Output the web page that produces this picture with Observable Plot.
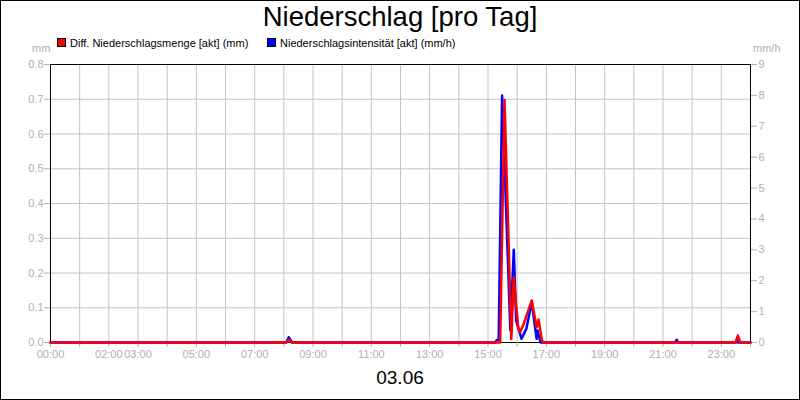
<!DOCTYPE html>
<html><head><meta charset="utf-8">
<script src="https://cdn.jsdelivr.net/npm/d3@7"></script>
<script src="https://cdn.jsdelivr.net/npm/@observablehq/plot@0.6"></script>
<style>
body{margin:0;background:#fff;font-family:"Liberation Sans",Arial,sans-serif;}
#wrap{position:relative;width:800px;height:400px;overflow:hidden;background:#fff;}
#border{position:absolute;left:0;top:0;width:800px;height:400px;box-sizing:border-box;border:1px solid #000;pointer-events:none;}
.abs{position:absolute;white-space:nowrap;}
#title{left:0;width:800px;top:1px;text-align:center;font-size:27.5px;color:#000;}
#date{left:0;width:800px;top:367px;text-align:center;font-size:19px;color:#000;}
.leg{font-size:11px;color:#000;top:37px;}
.sw{display:inline-block;width:7px;height:7px;border:1px solid #000;vertical-align:0px;margin-right:4px;}
.unit{font-size:11px;color:#b0b0b0;top:42px;}
</style></head>
<body>
<div id="wrap">
  <div id="chart"></div>
  <div class="abs" id="title">Niederschlag [pro Tag]</div>
  <div class="abs leg" style="left:57px"><span class="sw" style="background:#f00"></span>Diff. Niederschlagsmenge [akt] (mm)</div>
  <div class="abs leg" style="left:267px"><span class="sw" style="background:#00f"></span>Niederschlagsintensität [akt] (mm/h)</div>
  <div class="abs unit" style="left:32px">mm</div>
  <div class="abs unit" style="left:753px">mm/h</div>
  <div class="abs" id="date">03.06</div>
  <div id="border"></div>
</div>
<script>
// Diff. Niederschlagsmenge [akt] (mm)
const redTimes = ["00:00","08:05","08:11","08:16","15:25","15:34","15:48","15:53","16:02","16:06","16:12","16:30","16:40","16:44","16:51","16:56","23:29","23:34","23:39","24:00"];
const redValues = [0,0,0.008,0,0,0.698,0.01,0.188,0.045,0.03,0.048,0.121,0.044,0.066,0.005,0,0,0.02,0,0];
// Niederschlagsintensität [akt] (mm/h)
const blueTimes = ["00:00","08:05","08:10","08:17","15:15","15:18","15:22","15:29","15:46","15:53","15:58","16:09","16:19","16:30","16:40","16:42","16:48","21:25","21:28","21:31","23:30","23:32","23:34","24:00"];
const blueValues = [0,0,0.17,0,0,0.08,0.08,8.0,0.4,3.0,0.7,0.12,0.45,1.3,0.12,0.39,0,0,0.09,0,0,0.08,0,0];
// axes
const leftTicks = [0,0.1,0.2,0.3,0.4,0.5,0.6,0.7,0.8];
const rightTicks = [0,1,2,3,4,5,6,7,8,9];
const xLabelHours = [0,2,3,5,7,9,11,13,15,17,19,21,23];
const leftMax = 0.8, rightMax = 9;

const toH = s => { const [h,m] = s.split(":").map(Number); return h + m/60; };
const red = redTimes.map((t,i)=>({x:toH(t), v:redValues[i]}));
const blue = blueTimes.map((t,i)=>({x:toH(t), v:blueValues[i]}));
const pad = n => String(n).padStart(2,"0");

const plot = Plot.plot({
  width: 800, height: 400,
  marginLeft: 50, marginRight: 50, marginTop: 64, marginBottom: 58,
  style: {fontFamily: "'Liberation Sans', Arial, sans-serif", fontSize: "11px", color: "#b0b0b0", background: "transparent"},
  x: {domain: [0,24]},
  y: {domain: [0,leftMax]},
  marks: [
    Plot.gridX(d3.range(1,24), {stroke: "#c4c4c4", strokeOpacity: 1}),
    Plot.gridY(leftTicks.slice(1,-1), {stroke: "#c4c4c4", strokeOpacity: 1}),
    Plot.frame({stroke: "#000"}),
    Plot.axisX(d3.range(0,25), {tickSize: 5, tickPadding: 3, label: null,
      tickFormat: h => xLabelHours.includes(h) ? pad(h)+":00" : ""}),
    Plot.axisY(leftTicks, {anchor: "left", tickSize: 6, tickPadding: 1, label: null, tickFormat: d3.format(".1f")}),
    Plot.axisY(rightTicks.map(v => v*leftMax/rightMax), {anchor: "right", tickSize: 6, tickPadding: 2, label: null,
      tickFormat: d => String(Math.round(d*rightMax/leftMax))}),
    Plot.line(blue, {x: "x", y: d => d.v*leftMax/rightMax, stroke: "#0000ff", strokeWidth: 2.5}),
    Plot.line(red, {x: "x", y: "v", stroke: "#ff0000", strokeWidth: 2.5})
  ]
});
plot.style.position = "absolute";
plot.style.left = "0px";
plot.style.top = "0px";
document.getElementById("chart").appendChild(plot);
</script>
</body></html>
